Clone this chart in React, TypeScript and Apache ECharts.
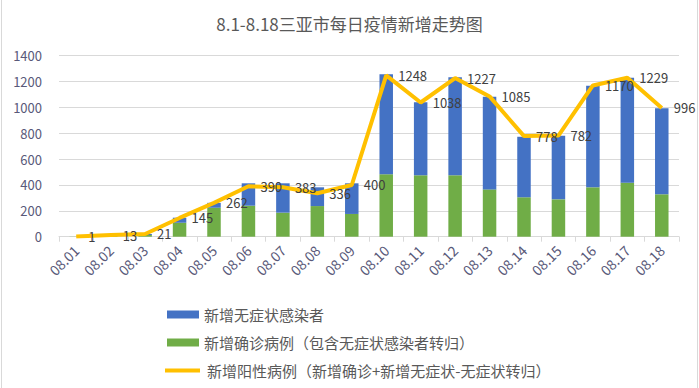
import React, { useEffect, useRef } from "react";
import * as echarts from "echarts";

const categories = ["08.01", "08.02", "08.03", "08.04", "08.05", "08.06", "08.07", "08.08", "08.09", "08.10", "08.11", "08.12", "08.13", "08.14", "08.15", "08.16", "08.17", "08.18"];
const confirmed = [1, 8, 13, 108, 224, 240, 186, 237, 176, 483, 475, 475, 366, 305, 289, 382, 418, 328];
const asymptomatic = [0, 5, 8, 39, 38, 173, 227, 145, 237, 773, 564, 758, 717, 468, 492, 786, 812, 665];
const positive = [1, 13, 21, 145, 262, 390, 383, 336, 400, 1248, 1038, 1227, 1085, 778, 782, 1170, 1229, 996];

const NAME_ASYM = "新增无症状感染者";
const NAME_CONF = "新增确诊病例（包含无症状感染者转归）";
const NAME_POS = "新增阳性病例（新增确诊+新增无症状-无症状转归）";

const FONT = "'Noto Sans CJK SC', 'Noto Sans', sans-serif";

export default function App() {
  const ref = useRef<HTMLDivElement>(null);
  useEffect(() => {
    const chart = echarts.init(ref.current!, null, { renderer: "svg" });
    const legendText = { fontSize: 15, color: "#595959", fontFamily: FONT };
    chart.setOption({
      animation: false,
      backgroundColor: "#ffffff",
      textStyle: { fontFamily: FONT },
      title: {
        text: "8.1-8.18三亚市每日疫情新增走势图",
        left: "center",
        top: 10,
        textStyle: { fontSize: 17, fontWeight: "normal", color: "#595959", fontFamily: FONT },
      },
      legend: [
        {
          data: [NAME_ASYM],
          orient: "vertical",
          left: 162,
          top: 302,
          itemWidth: 32,
          itemHeight: 8,
          icon: "rect",
          textStyle: legendText,
        },
        {
          data: [NAME_CONF],
          orient: "vertical",
          left: 162,
          top: 330,
          itemWidth: 32,
          itemHeight: 8,
          icon: "rect",
          textStyle: legendText,
        },
        {
          data: [NAME_POS],
          orient: "vertical",
          left: 160,
          top: 358,
          itemWidth: 35,
          itemHeight: 4,
          icon: "rect",
          textStyle: { ...legendText, padding: [0, 0, 0, 2] },
        },
      ],
      grid: { left: 59, right: 20, top: 55.7, bottom: 151.3 },
      xAxis: {
        type: "category",
        data: categories,
        axisLine: { lineStyle: { color: "#d9d9d9" } },
        axisTick: { show: true, lineStyle: { color: "#d9d9d9" } },
        axisLabel: { rotate: 45, color: "#595979", fontSize: 14, margin: 11, interval: 0 },
      },
      yAxis: {
        type: "value",
        min: 0,
        max: 1400,
        interval: 200,
        axisLabel: { color: "#595979", fontSize: 13, margin: 17, formatter: (v: number) => String(v) },
        splitLine: { lineStyle: { color: "#d9d9d9" } },
        axisLine: { show: false },
      },
      series: [
        {
          name: NAME_CONF,
          type: "bar",
          stack: "total",
          data: confirmed,
          barWidth: 13.5,
          itemStyle: { color: "#70AD47" },
        },
        {
          name: NAME_ASYM,
          type: "bar",
          stack: "total",
          data: asymptomatic,
          barWidth: 13.5,
          itemStyle: { color: "#4472C4" },
        },
        {
          name: NAME_POS,
          type: "line",
          data: positive,
          symbol: "circle",
          symbolSize: 0,
          showSymbol: true,
          lineStyle: { color: "#FFC000", width: 4 },
          itemStyle: { color: "#FFC000" },
          label: {
            show: true,
            position: "right",
            distance: 12,
            color: "#404040",
            fontSize: 13,
          },
          z: 5,
        },
      ],
      graphic: [
        { type: "line", shape: { x1: 1.5, y1: 0, x2: 1.5, y2: 388 }, style: { stroke: "#d9d9d9", lineWidth: 1 } },
        { type: "line", shape: { x1: 697.5, y1: 0, x2: 697.5, y2: 388 }, style: { stroke: "#d9d9d9", lineWidth: 1 } },
      ],
    });
    return () => chart.dispose();
  }, []);
  return <div ref={ref} style={{ position: "fixed", left: 0, top: 0, width: 699, height: 388 }} />;
}
